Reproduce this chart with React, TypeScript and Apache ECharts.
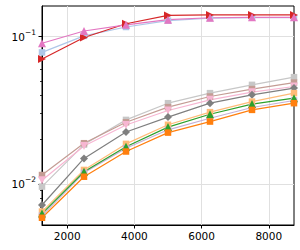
import React, { useEffect, useRef } from 'react';
import * as echarts from 'echarts';

const xValues = [1250, 2500, 3750, 5000, 6250, 7500, 8750];
const xTickValues = [2000, 4000, 6000, 8000];
const yMajorTicks = [0.01, 0.1];
const yMinorTicks = [0.006, 0.007, 0.008, 0.009, 0.02, 0.03, 0.04, 0.05, 0.06, 0.07, 0.08, 0.09];
const yMin = 0.00527;
const yMax = 0.161;

const lightBlueVals = [0.078, 0.101, 0.116, 0.128, 0.133, 0.134, 0.134];
const redVals = [0.0703, 0.0985, 0.122, 0.139, 0.14, 0.14, 0.14];
const pinkVals = [0.09, 0.109, 0.12, 0.13, 0.134, 0.135, 0.135];
const lightGrayVals = [0.0096, 0.0185, 0.0272, 0.0353, 0.0413, 0.047, 0.053];
const brownVals = [0.0115, 0.0189, 0.0262, 0.0332, 0.0392, 0.044, 0.0487];
const lightPinkVals = [0.0106, 0.0181, 0.0251, 0.0315, 0.0372, 0.0419, 0.0458];
const grayVals = [0.0072, 0.0149, 0.0225, 0.0284, 0.0353, 0.0402, 0.0447];
const lightOrangeVals = [0.0065, 0.01245, 0.0187, 0.0252, 0.0307, 0.0362, 0.0413];
const purpleVals = [0.0061, 0.0119, 0.01746, 0.0233, 0.0279, 0.033, 0.0368];
const greenVals = [0.0063, 0.0121, 0.0179, 0.0243, 0.0297, 0.0348, 0.0382];
const orangeVals = [0.0059, 0.0112, 0.0166, 0.0223, 0.0265, 0.0318, 0.0353];

const seriesDefs = [
  { name: 'light gray', color: '#c7c7c7', symbol: 'rect', rotate: 0, size: 6.5, values: lightGrayVals },
  { name: 'brown', color: '#c49c94', symbol: 'rect', rotate: 0, size: 6.5, values: brownVals },
  { name: 'light pink', color: '#f7b6d2', symbol: 'triangle', rotate: 180, size: 8, values: lightPinkVals },
  { name: 'gray', color: '#7f7f7f', symbol: 'diamond', rotate: 0, size: 8, values: grayVals },
  { name: 'light orange', color: '#ffbb78', symbol: 'rect', rotate: 0, size: 6.5, values: lightOrangeVals },
  { name: 'purple', color: '#c5b0d5', symbol: 'rect', rotate: 0, size: 6.5, values: purpleVals },
  { name: 'green', color: '#2ca02c', symbol: 'triangle', rotate: 0, size: 8, values: greenVals },
  { name: 'orange', color: '#ff7f0e', symbol: 'rect', rotate: 0, size: 6.5, values: orangeVals },
  { name: 'light blue', color: '#aec7e8', symbol: 'rect', rotate: 0, size: 6.5, values: lightBlueVals },
  { name: 'red', color: '#d62728', symbol: 'triangle', rotate: -90, size: 8, values: redVals },
  { name: 'pink', color: '#e377c2', symbol: 'triangle', rotate: 0, size: 8, values: pinkVals },
];

const FONT = 'DejaVu Sans';

export default function App() {
  const ref = useRef<HTMLDivElement>(null);
  useEffect(() => {
    document.body.style.margin = '0';
    const chart = echarts.init(ref.current!, undefined, { renderer: 'svg' });
    const lmin = Math.log10(yMin);
    const lmax = Math.log10(yMax);
    const supers: Record<string, string> = { '-1': '−1', '-2': '−2' };
    chart.setOption({
      animation: false,
      backgroundColor: '#fff',
      textStyle: { fontFamily: FONT },
      grid: {
        left: 42, right: 6, top: 6, bottom: 25,
        show: true, borderColor: '#000', borderWidth: 1,
        outerBoundsMode: 'none',
      },
      xAxis: {
        type: 'value', min: 1250, max: 8750,
        axisLine: { show: true, lineStyle: { color: '#000', width: 1 } },
        axisTick: { show: true, customValues: xTickValues, length: 3.5, lineStyle: { color: '#000', width: 1 } },
        axisLabel: {
          customValues: xTickValues, fontSize: 10.5, color: '#000', margin: 5, fontFamily: FONT,
          formatter: (v: number) => String(Math.round(v)),
        },
        splitLine: { show: true, customValues: xTickValues, lineStyle: { color: '#e0e0e0', width: 1 } },
      },
      yAxis: [
        {
          type: 'log', logBase: 10, min: yMin, max: yMax,
          axisLine: { show: true, lineStyle: { color: '#000', width: 1 } },
          axisTick: { show: false }, axisLabel: { show: false }, splitLine: { show: false },
        },
        {
          type: 'value', min: lmin, max: lmax, position: 'left', offset: 0,
          axisLine: { show: false },
          axisTick: { show: true, customValues: yMajorTicks.map((v) => Math.log10(v)), length: 3.5, lineStyle: { color: '#000', width: 1 } },
          axisLabel: {
            customValues: yMajorTicks.map((v) => Math.log10(v)),
            margin: 6,
            color: '#000',
            formatter: (v: number) => `{a|10}{b|${supers[String(Math.round(v))] || String(Math.round(v))}}`,
            rich: {
              a: { fontSize: 10.5, fontFamily: FONT, color: '#000', lineHeight: 17 },
              b: { fontSize: 7.5, fontFamily: FONT, color: '#000', verticalAlign: 'top' },
            },
          },
          splitLine: { show: true, customValues: yMajorTicks.map((v) => Math.log10(v)), lineStyle: { color: '#e0e0e0', width: 1 } },
        },
        {
          type: 'value', min: lmin, max: lmax, position: 'left', offset: 0,
          axisLine: { show: false },
          axisTick: { show: true, customValues: yMinorTicks.map((v) => Math.log10(v)), length: 2, lineStyle: { color: '#000', width: 0.8 } },
          axisLabel: { show: false },
          splitLine: { show: false },
        },
      ],
      series: seriesDefs.map((s) => ({
        type: 'line',
        name: s.name,
        yAxisIndex: 0,
        data: xValues.map((x, i) => [x, s.values[i]]),
        symbol: s.symbol,
        symbolSize: s.size,
        symbolRotate: s.rotate,
        showSymbol: true,
        lineStyle: { color: s.color, width: 1.2 },
        itemStyle: { color: s.color, borderWidth: 0 },
        clip: true,
      })),
    });
    return () => chart.dispose();
  }, []);
  return <div ref={ref} style={{ position: 'absolute', left: 0, top: 0, width: 300, height: 250 }} />;
}
